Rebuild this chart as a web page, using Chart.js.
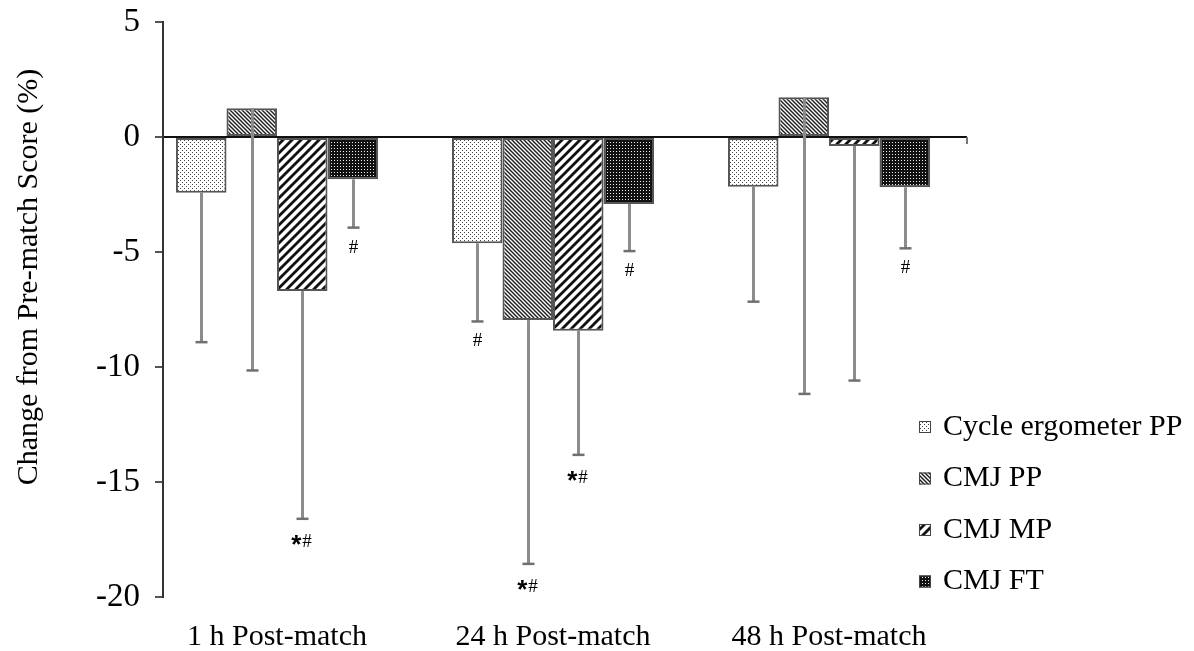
<!DOCTYPE html>
<html><head><meta charset="utf-8">
<script src="https://cdn.jsdelivr.net/npm/chart.js@4.4.1/dist/chart.umd.min.js"></script>
<style>html,body{margin:0;padding:0;background:#fff;} #wrap{width:1194px;height:651px;}</style>
</head><body><div id="wrap"><canvas id="c" width="1194" height="651"></canvas></div>
<script>
// ---- data ----
const categories = ['1 h Post-match', '24 h Post-match', '48 h Post-match'];
const seriesNames = ['Cycle ergometer PP', 'CMJ PP', 'CMJ MP', 'CMJ FT'];
const cycleErgometerPP = [-2.42, -4.62, -2.16];
const cmjPP = [1.25, -7.96, 1.73];
const cmjMP = [-6.70, -8.42, -0.39];
const cmjFT = [-1.84, -2.91, -2.19];
const cycleErgometerPP_SD = [6.5, 3.4, 5.0];
const cmjPP_SD = [11.4, 10.6, 12.9];
const cmjMP_SD = [9.9, 5.4, 10.2];
const cmjFT_SD = [2.1, 2.05, 2.65];
const cycleErgometerPP_sig = ['', '#', ''];
const cmjPP_sig = ['', '*#', ''];
const cmjMP_sig = ['*#', '*#', ''];
const cmjFT_sig = ['#', '#', '#'];
const yTickValues = [-20, -15, -10, -5, 0, 5];
const yAxisTitle = 'Change from Pre-match Score (%)';

// ---- patterns ----
const pctx = document.createElement('canvas').getContext('2d');
function makePattern(size, draw) {
  const c = document.createElement('canvas');
  c.width = size; c.height = size;
  const g = c.getContext('2d');
  draw(g, size);
  return pctx.createPattern(c, 'repeat');
}
const patDots = makePattern(4, (g, s) => {
  g.fillStyle = '#fff'; g.fillRect(0, 0, s, s);
  g.fillStyle = '#444'; g.fillRect(0, 0, 1, 1); g.fillRect(2, 2, 1, 1);
});
const patBack = makePattern(4, (g, s) => {
  g.fillStyle = '#fff'; g.fillRect(0, 0, s, s);
  g.strokeStyle = '#222'; g.lineWidth = 1.5;
  g.beginPath();
  g.moveTo(-1, -1); g.lineTo(s + 1, s + 1);
  g.moveTo(-1, s - 1); g.lineTo(1, s + 1);
  g.moveTo(s - 1, -1); g.lineTo(s + 1, 1);
  g.stroke();
});
const patFwd = makePattern(9, (g, s) => {
  g.fillStyle = '#fff'; g.fillRect(0, 0, s, s);
  g.strokeStyle = '#111'; g.lineWidth = 2.8;
  g.beginPath();
  g.moveTo(-1, s + 1); g.lineTo(s + 1, -1);
  g.moveTo(-2, 2); g.lineTo(2, -2);
  g.moveTo(s - 2, s + 2); g.lineTo(s + 2, s - 2);
  g.stroke();
});
const patDark = makePattern(3, (g, s) => {
  g.fillStyle = '#111'; g.fillRect(0, 0, s, s);
  g.fillStyle = '#eee'; g.fillRect(1, 1, 1, 1);
});

const FONT = 'Liberation Serif';
const valuesList = [cycleErgometerPP, cmjPP, cmjMP, cmjFT];
const sdList = [cycleErgometerPP_SD, cmjPP_SD, cmjMP_SD, cmjFT_SD];
const sigList = [cycleErgometerPP_sig, cmjPP_sig, cmjMP_sig, cmjFT_sig];
const patterns = [patDots, patBack, patFwd, patDark];

const datasets = seriesNames.map((name, k) => ({
  label: name,
  data: valuesList[k].map((v, i) => ({ x: i, y: v })),
  sd: sdList[k],
  sig: sigList[k],
  backgroundColor: patterns[k],
  borderColor: '#555',
  borderWidth: 2,
  borderSkipped: false,
  categoryPercentage: 0.732,
  barPercentage: 1.0
}));

const extras = {
  id: 'extras',
  afterDatasetsDraw(chart) {
    const ctx = chart.ctx, ys = chart.scales.y;
    chart.data.datasets.forEach((ds, di) => {
      const meta = chart.getDatasetMeta(di);
      meta.data.forEach((el, i) => {
        const v = ds.data[i].y, lo = v - ds.sd[i];
        const x = Math.round(el.x) + 0.5;
        const y0 = ys.getPixelForValue(v), y1 = ys.getPixelForValue(lo);
        ctx.save();
        ctx.strokeStyle = '#8c8c8c'; ctx.lineWidth = 3;
        ctx.beginPath(); ctx.moveTo(x, y0); ctx.lineTo(x, y1); ctx.stroke();
        ctx.strokeStyle = '#707070'; ctx.lineWidth = 2.5;
        ctx.beginPath(); ctx.moveTo(x - 6, y1); ctx.lineTo(x + 6, y1); ctx.stroke();
        const s = ds.sig[i];
        if (s) {
          ctx.fillStyle = '#000';
          if (s === '#') {
            ctx.font = '19px ' + FONT; ctx.textAlign = 'center'; ctx.textBaseline = 'middle';
            ctx.fillText('#', x, y1 + 20);
          } else {
            const cy = y1 + 23;
            ctx.font = 'bold 26px "Liberation Sans"';
            const aw = ctx.measureText('*').width;
            ctx.font = '19px ' + FONT;
            const hw = ctx.measureText('#').width;
            const total = aw + 1 + hw;
            const sx = x - 1 - total / 2;
            ctx.textAlign = 'left';
            ctx.textBaseline = 'alphabetic';
            ctx.font = 'bold 26px "Liberation Sans"';
            ctx.fillText('*', sx, cy + 11);
            ctx.textBaseline = 'middle';
            ctx.font = '19px ' + FONT;
            ctx.fillText('#', sx + aw + 1, cy);
          }
        }
        ctx.restore();
      });
    });
  },
  afterDraw(chart) {
    const ctx = chart.ctx, ca = chart.chartArea, ys = chart.scales.y;
    ctx.save();
    const z = ys.getPixelForValue(0);
    ctx.strokeStyle = '#777'; ctx.lineWidth = 2;
    ctx.beginPath(); ctx.moveTo(ca.right, z); ctx.lineTo(ca.right, z + 7); ctx.stroke();
    ctx.fillStyle = '#000';
    ctx.font = '30px ' + FONT;
    ctx.textAlign = 'center'; ctx.textBaseline = 'middle';
    ctx.translate(29, 277); ctx.rotate(-Math.PI / 2);
    ctx.fillText(yAxisTitle, 0, 0);
    ctx.restore();
    ctx.save();
    chart.data.datasets.forEach((ds, i) => {
      const yc = 427 + i * 51.5;
      ctx.fillStyle = ds.backgroundColor;
      ctx.fillRect(919, yc - 6, 12, 12);
      ctx.strokeStyle = '#444'; ctx.lineWidth = 1;
      ctx.strokeRect(919.5, yc - 5.5, 11, 11);
      ctx.fillStyle = '#000';
      ctx.font = '30px ' + FONT;
      ctx.textAlign = 'left'; ctx.textBaseline = 'middle';
      ctx.fillText(ds.label, 943, yc);
    });
    ctx.restore();
  }
};

new Chart(document.getElementById('c'), {
  type: 'bar',
  data: { datasets },
  options: {
    responsive: false,
    devicePixelRatio: 1,
    animation: false,
    layout: { padding: { left: 0, top: 22, right: 227, bottom: 0 } },
    plugins: { legend: { display: false }, tooltip: { enabled: false } },
    scales: {
      x: {
        type: 'linear',
        offset: false,
        min: -0.413,
        max: 2.5,
        afterBuildTicks: s => { s.ticks = categories.map((_, i) => ({ value: i })); },
        afterFit: s => { s.height = 54; s.paddingLeft = 0; s.paddingRight = 0; },
        ticks: {
          callback: v => categories[v] ?? '',
          font: { family: FONT, size: 30 },
          color: '#000',
          padding: 22,
          maxRotation: 0,
          autoSkip: false
        },
        grid: { display: false, drawTicks: false, offset: false },
        border: { display: false }
      },
      y: {
        min: -20,
        max: 5,
        afterBuildTicks: s => { s.ticks = yTickValues.map(v => ({ value: v })); },
        afterFit: s => { s.width = 163; s.paddingTop = 0; s.paddingBottom = 0; },
        ticks: {
          callback: v => String(v),
          font: { family: FONT, size: 33 },
          color: '#000',
          padding: 15
        },
        grid: {
          color: c => (c.tick && c.tick.value === 0) ? '#111' : 'rgba(0,0,0,0)',
          lineWidth: 2,
          tickColor: '#555',
          tickLength: 8,
          drawTicks: true
        },
        border: { display: true, color: '#333', width: 2 }
      }
    }
  },
  plugins: [extras]
});
</script></body></html>
